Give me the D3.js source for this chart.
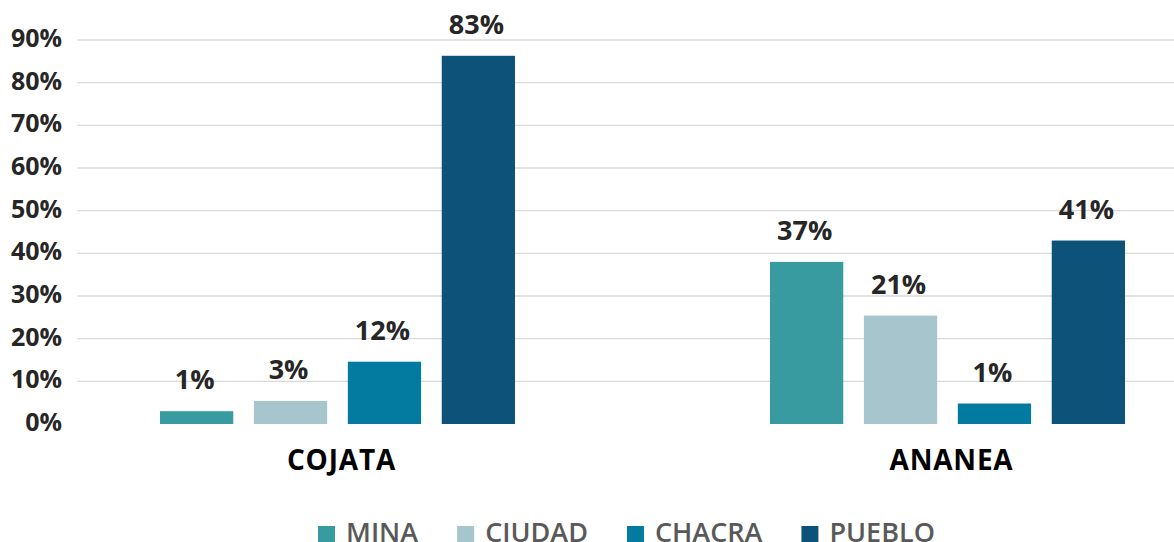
<!DOCTYPE html>
<html>
<head>
<meta charset="utf-8">
<script src="https://cdn.jsdelivr.net/npm/d3@7"></script>
<style>
  html, body { margin: 0; padding: 0; background: #fff; }
  svg { display: block; font-family: "Open Sans", sans-serif; }
</style>
</head>
<body>
<svg id="chart" width="1174" height="542"></svg>
<script>
const categories = ["COJATA", "ANANEA"];
const series = ["MINA", "CIUDAD", "CHACRA", "PUEBLO"];
const colors = ["#379b9f", "#a6c5cd", "#037ba0", "#0c5279"];
// bar heights as drawn (percent)
const minaValues   = [3.0, 38.0];
const ciudadValues = [5.4, 25.4];
const chacraValues = [14.6, 4.8];
const puebloValues = [86.3, 43.0];
// data label texts (percent)
const minaLabels   = [1, 37];
const ciudadLabels = [3, 21];
const chacraLabels = [12, 1];
const puebloLabels = [83, 41];
const yTicks = [0, 10, 20, 30, 40, 50, 60, 70, 80, 90];

const values = [minaValues, ciudadValues, chacraValues, puebloValues];
const labels = [minaLabels, ciudadLabels, chacraLabels, puebloLabels];

const svg = d3.select("#chart");
const W = 1174, H = 542;

const y = d3.scaleLinear().domain([0, 90]).range([424, 40]);
const x0 = d3.scalePoint().domain(categories).range([337.5, 947.5]);
const x1 = d3.scaleBand().domain(series).range([-177.5, 177.5]).paddingInner(0.22).paddingOuter(0);

// gridlines
svg.append("g").selectAll("line")
  .data(yTicks.filter(t => t > 0))
  .join("line")
  .attr("x1", 77).attr("x2", W)
  .attr("y1", d => y(d)).attr("y2", d => y(d))
  .attr("stroke", "#d9d9d9").attr("stroke-width", 1.3);

// y axis labels
svg.append("g").selectAll("text")
  .data(yTicks)
  .join("text")
  .attr("x", 62).attr("y", d => y(d) + 7)
  .attr("text-anchor", "end")
  .attr("font-size", 25).attr("font-weight", 700)
  .attr("fill", "#262626")
  .text(d => d + "%");

// bars
const rows = [];
series.forEach((s, si) => {
  categories.forEach((c, ci) => {
    rows.push({ s, si, c, v: values[si][ci], lab: labels[si][ci] });
  });
});

svg.append("g").selectAll("rect")
  .data(rows)
  .join("rect")
  .attr("x", d => x0(d.c) + x1(d.s))
  .attr("width", x1.bandwidth())
  .attr("y", d => y(d.v))
  .attr("height", d => y(0) - y(d.v))
  .attr("fill", d => colors[d.si]);

svg.append("g").selectAll("text")
  .data(rows)
  .join("text")
  .attr("x", d => x0(d.c) + x1(d.s) + x1.bandwidth() / 2 - 2)
  .attr("y", d => y(d.v) - 22)
  .attr("text-anchor", "middle")
  .attr("font-size", 27).attr("font-weight", 700)
  .attr("fill", "#262626")
  .text(d => d.lab + "%");

// category labels
svg.append("g").selectAll("text")
  .data(categories)
  .join("text")
  .attr("x", d => x0(d) + 4)
  .attr("y", 470)
  .attr("text-anchor", "middle")
  .attr("font-size", 28).attr("font-weight", 700)
  .attr("letter-spacing", 0.8)
  .attr("fill", "#000")
  .text(d => d);

// legend
const lg = svg.append("g");
let lx = 318;
series.forEach((s, i) => {
  lg.append("rect").attr("x", lx).attr("y", 526).attr("width", 17).attr("height", 17).attr("fill", colors[i]);
  const t = lg.append("text")
    .attr("x", lx + 28).attr("y", 542)
    .attr("font-size", 27).attr("font-weight", 600).attr("fill", "#595959")
    .text(s);
  const w = t.node().getComputedTextLength();
  lx = lx + 28 + w + 39;
});
</script>
</body>
</html>
